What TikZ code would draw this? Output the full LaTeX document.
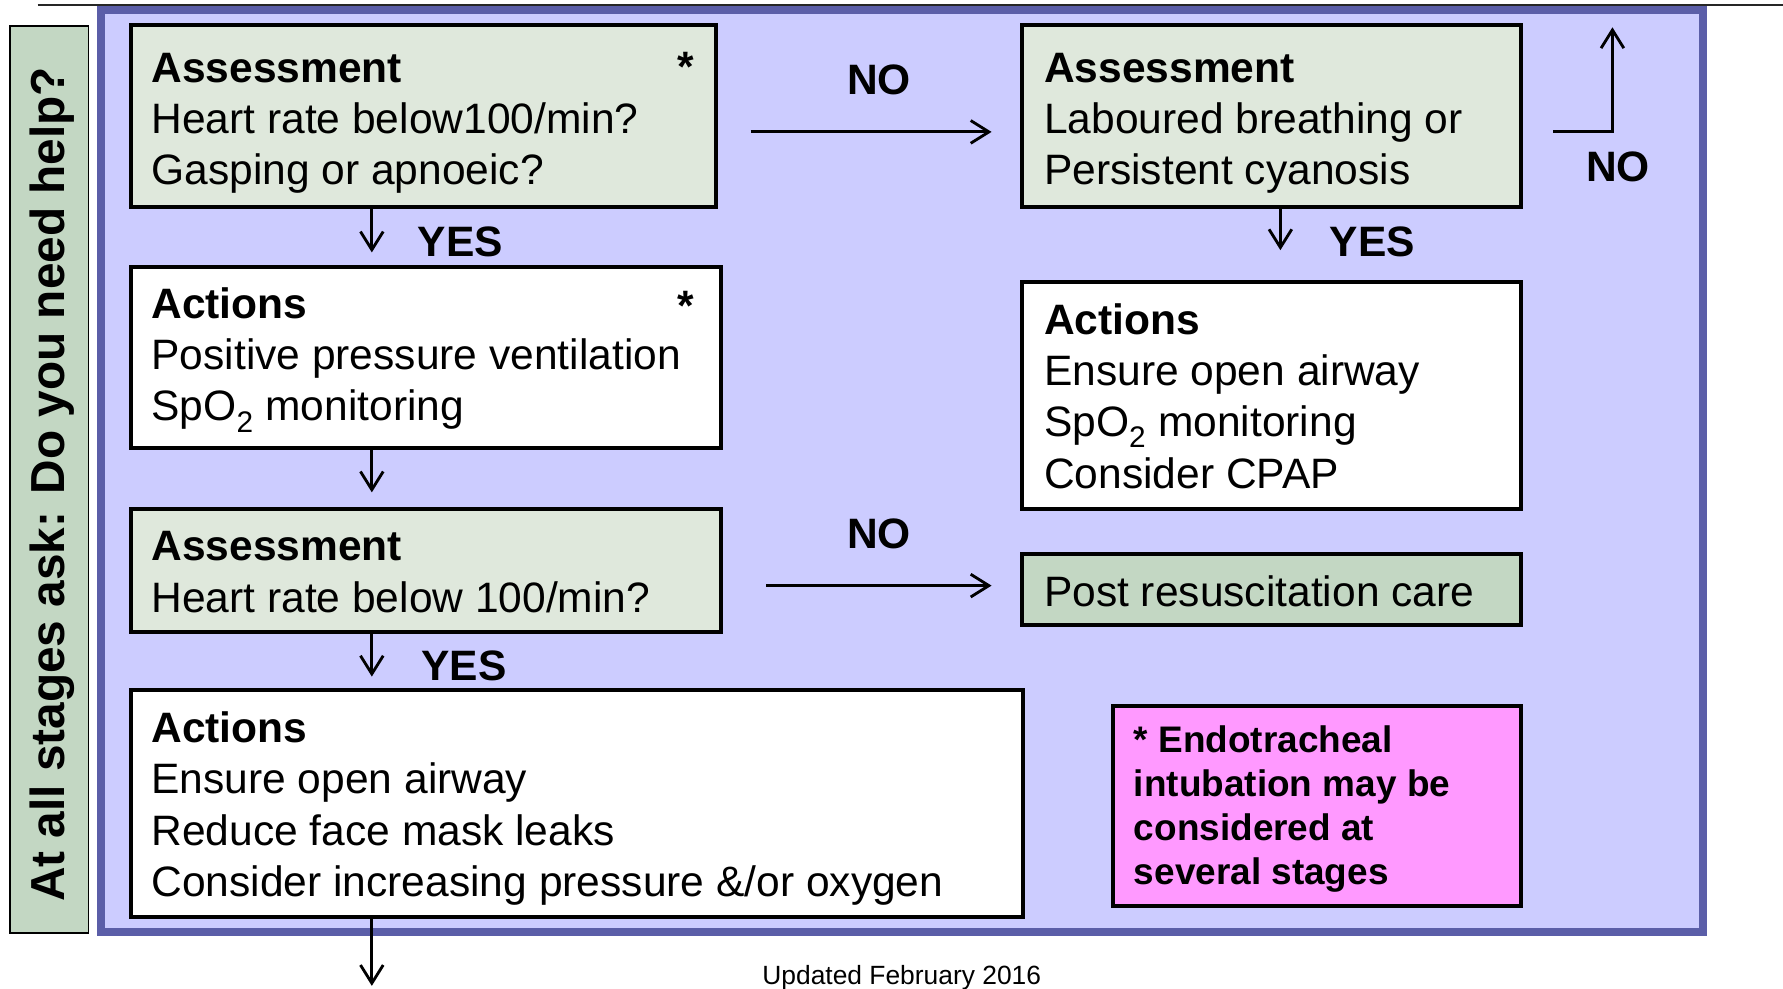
\documentclass[tikz,border=0pt]{standalone}
\usepackage{fontspec}
\setmainfont{Liberation Sans}
\usetikzlibrary{arrows.meta,calc}
\definecolor{panelfill}{HTML}{CCCCFF}
\definecolor{panelline}{HTML}{5B5EA8}
\definecolor{lightgreen}{HTML}{DFE8DC}
\definecolor{midgreen}{HTML}{C3D7C3}
\definecolor{pinkfill}{HTML}{FF99FF}
\newcommand\firstln{\rule{0pt}{30pt}}
\begin{document}
\begin{tikzpicture}[x=1pt,y=-1pt,
  box/.style={draw=black, line width=3.5pt, inner sep=0pt, outer sep=0pt, anchor=north west},
  txt/.style={anchor=north west, inner sep=0pt, align=left, font=\fontsize{37.4}{45}\selectfont},
  lbl/.style={anchor=base, inner sep=0pt, font=\fontsize{37.4}{45}\selectfont\bfseries},
  conn/.style={line width=2.5pt, -{Straight Barb[length=16pt,width=20pt]}},
]
\useasboundingbox (0,0) rectangle (1568,869);
% top rule
\draw[line width=2pt, black!85] (33,4.5) -- (1568,4.5);
% panel
\node[draw=panelline, fill=panelfill, line width=7pt, inner sep=0pt, outer sep=0pt,
      anchor=north west, minimum width=1409pt, minimum height=811pt] (panel) at (88.5,8.8) {};
% side box
\node[draw=black, fill=midgreen, line width=1.5pt, inner sep=0pt, outer sep=0pt,
      anchor=north west, minimum width=69pt, minimum height=798pt] (side) at (8.75,22.75) {};
\node[rotate=90, anchor=base, inner sep=0pt, font=\fontsize{42}{50}\selectfont\bfseries]
      (sidetext) at (57,426) {At all stages ask: Do you need help?};
% boxes
\node[box, fill=lightgreen, minimum width=515pt, minimum height=160pt] (a1) at (115,22) {};
\node[box, fill=white, minimum width=519pt, minimum height=159pt] (act1) at (115,235) {};
\node[box, fill=lightgreen, minimum width=519pt, minimum height=108pt] (a2) at (115,448) {};
\node[box, fill=white, minimum width=785pt, minimum height=199pt] (act2) at (115,607) {};
\node[box, fill=lightgreen, minimum width=439pt, minimum height=160pt] (a3) at (899,22) {};
\node[box, fill=white, minimum width=439pt, minimum height=200pt] (act3) at (899,248) {};
\node[box, fill=midgreen, minimum width=439pt, minimum height=63pt] (post) at (899,487) {};
\node[box, fill=pinkfill, minimum width=359pt, minimum height=176pt] (pink) at (979,621) {};
% texts
\node[txt] (a1t) at (133,42) {\firstln\textbf{Assessment}\\Heart rate below100/min?\\Gasping or apnoeic?};
\node[lbl] (a1s) at (603,72) {*};
\node[txt] (act1t) at (133,250) {\firstln\textbf{Actions}\\Positive pressure ventilation\\SpO\textsubscript{2} monitoring};
\node[lbl] (act1s) at (603,282) {*};
\node[txt] (a2t) at (133,463) {\firstln\textbf{Assessment}\\Heart rate below 100/min?};
\node[txt] (act2t) at (133,623) {\firstln\textbf{Actions}\\Ensure open airway\\Reduce face mask leaks\\Consider increasing pressure \&/or oxygen};
\node[txt] (a3t) at (918,42) {\firstln\textbf{Assessment}\\Laboured breathing or\\Persistent cyanosis};
\node[txt] (act3t) at (918,264) {\firstln\textbf{Actions}\\Ensure open airway\\SpO\textsubscript{2} monitoring\\Consider CPAP};
\node[anchor=base west, inner sep=0pt, font=\fontsize{37.4}{45}\selectfont] (postt) at (918,533) {Post resuscitation care};
\node[txt, font=\fontsize{32.5}{38.7}\selectfont\bfseries] (pinkt) at (997,631.5) {\firstln* Endotracheal\\intubation may be\\considered at\\several stages};
% labels
\node[lbl] (yes1) at (405,226) {YES};
\node[lbl] (yes2) at (408,598) {YES};
\node[lbl] (yes3) at (1207,226) {YES};
\node[lbl] (no1) at (773,83) {NO};
\node[lbl] (no2) at (773,482) {NO};
\node[lbl] (no3) at (1423,160) {NO};
\node[anchor=base, inner sep=0pt, font=\fontsize{23.2}{28}\selectfont] (upd) at (793,866) {Updated February 2016};
% helper coordinates
\coordinate (colL) at (327,0);
\coordinate (colR) at (1126,0);
\coordinate (rowT) at (0,116);
\coordinate (rowM) at (0,515);
\coordinate (outdown) at (327,867);
\coordinate (upturn) at (1418,116);
\coordinate (outup) at (1418,24);
% connectors
\draw[conn, shorten >=13pt] (a1.south -| colL) -- (act1.north -| colL);
\draw[conn, shorten >=15pt] (act1.south -| colL) -- (a2.north -| colL);
\draw[conn, shorten >=12pt] (a2.south -| colL) -- (act2.north -| colL);
\draw[conn] (act2.south -| colL) -- (outdown);
\draw[conn, shorten <=30pt, shorten >=27pt] (a1.east |- rowT) -- (a3.west |- rowT);
\draw[conn, shorten <=40pt, shorten >=27pt] (a2.east |- rowM) -- (post.west |- rowM);
\draw[conn, shorten >=28pt] (a3.south -| colR) -- (act3.north -| colR);
\draw[conn, shorten <=28pt] (a3.east |- rowT) -- (upturn) -- (outup);
\end{tikzpicture}
\end{document}
